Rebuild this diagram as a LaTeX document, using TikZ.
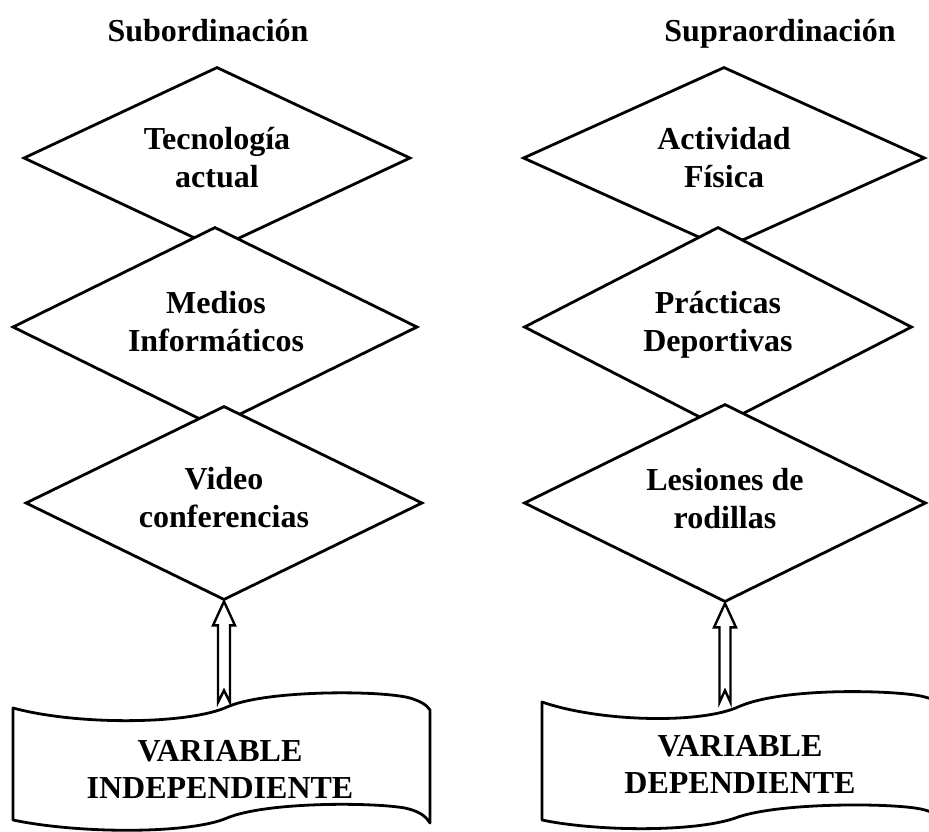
\documentclass[tikz,border=0pt]{standalone}
\usepackage{fontspec}
\setmainfont{Liberation Serif}
\usetikzlibrary{shapes.geometric}
\tikzset{
  rombo/.style={diamond, aspect=2.1, draw=black, fill=white, line width=2.8pt, inner sep=0pt},
  rtext/.style={align=center, font=\bfseries\fontsize{32}{38}\selectfont},
  titulo/.style={font=\bfseries\fontsize{32}{38}\selectfont, anchor=base},
  doctext/.style={align=center, font=\bfseries\fontsize{32}{37}\selectfont},
  docshape/.style={draw=black, fill=white, line width=2.8pt, line join=round},
  flecha/.style={draw=black, fill=white, line width=2.4pt, line join=miter}
}
\begin{document}
\begin{tikzpicture}[x=1pt,y=-1pt]
\clip (0,0) rectangle (929,831);
\fill[white] (0,0) rectangle (929,831);

\node[titulo] (t1) at (208,41) {Subordinación};
\node[titulo] (t2) at (780,41) {Supraordinación};

% left column
\node[rombo, minimum width=387pt, minimum height=182pt] (d1) at (217,158) {};
\node[rtext] (d1t) at (217,158) {Tecnología\\actual};
\node[rombo, minimum width=405pt, minimum height=200pt] (d2) at (215,327) {};
\node[rtext] (d2t) at (216,322) {Medios\\Informáticos};
\node[rombo, minimum width=397pt, minimum height=194pt] (d3) at (224,503) {};
\node[rtext] (d3t) at (224,498) {Video\\conferencias};

% right column
\node[rombo, minimum width=402pt, minimum height=182pt] (e1) at (724,158) {};
\node[rtext] (e1t) at (724,158) {Actividad\\Física};
\node[rombo, minimum width=388pt, minimum height=200pt] (e2) at (718,327) {};
\node[rtext] (e2t) at (718,325) {Prácticas\\Deportivas};
\node[rombo, minimum width=402pt, minimum height=198pt] (e3) at (725,503) {};
\node[rtext] (e3t) at (725,499) {Lesiones de\\rodillas};

% documents
\draw[docshape] (13,708) .. controls (80,726) and (190,724) .. (227,707)
  .. controls (265,690) and (380,690) .. (410,698)
  .. controls (420,701) and (427,705) .. (430,710) -- (430,823)
  .. controls (425,815) and (418,811) .. (405,808)
  .. controls (370,802) and (265,802) .. (227,818)
  .. controls (190,834) and (80,834) .. (13,820) -- cycle;
\node[doctext] (v1) at (220,769) {VARIABLE\\INDEPENDIENTE};

\draw[docshape] (542,702) .. controls (600,722) and (700,724) .. (738,707)
  .. controls (780,688) and (880,690) .. (915,695)
  .. controls (935,698) and (945,705) .. (950,712) -- (950,825)
  .. controls (940,815) and (930,810) .. (915,808)
  .. controls (880,803) and (780,803) .. (738,817)
  .. controls (700,832) and (600,832) .. (542,820) -- cycle;
\node[doctext] (v2) at (740,764) {VARIABLE\\DEPENDIENTE};

% hollow arrows
\draw[flecha] (d3.south) --++(11,24) --++(-5,0) --++(0,77) --++(-6,-12) --++(-6,12) --++(0,-77) --++(-5,0) -- cycle;
\draw[flecha] (e3.south) --++(11,24) --++(-5.5,0) --++(0,75) --++(-5.5,-12) --++(-5.5,12) --++(0,-75) --++(-5.5,0) -- cycle;
\end{tikzpicture}
\end{document}
